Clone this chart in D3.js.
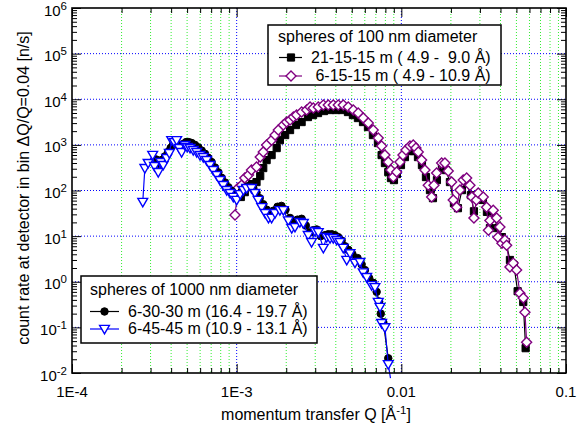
<!DOCTYPE html>
<html>
<head>
<meta charset="utf-8">
<script src="https://cdn.jsdelivr.net/npm/d3@7"></script>
<style>
  body { margin: 0; background: #fff; }
  text { font-family: "Liberation Sans", Arial, sans-serif; fill: #000; }
  .pre { white-space: pre; }
</style>
</head>
<body>
<svg id="chart" width="584" height="430"></svg>
<script>
// ---- data ----
// 100 nm spheres, 21-15-15 m (black squares)
const q21 = [1.06e-3, 1.12e-3, 1.18e-3, 1.24e-3, 1.32e-3, 1.39e-3, 1.45e-3, 1.52e-3, 1.63e-3, 1.75e-3,
  1.83e-3, 1.97e-3, 2.11e-3, 2.29e-3, 2.48e-3, 2.71e-3, 2.91e-3, 3.12e-3, 3.39e-3, 3.69e-3,
  4.01e-3, 4.36e-3, 4.74e-3, 5.08e-3, 5.45e-3, 5.85e-3, 6.27e-3, 6.72e-3, 7.21e-3, 7.59e-3,
  7.95e-3, 8.33e-3, 8.65e-3, 9.02e-3, 9.40e-3, 9.95e-3, 0.01052, 0.01128, 0.01193, 0.01262,
  0.01334, 0.01411, 0.01492, 0.01556, 0.01645, 0.01764, 0.01866, 0.01973, 0.02087, 0.02207,
  0.02333, 0.02503, 0.02646, 0.02760, 0.02919, 0.03130, 0.03310, 0.03451, 0.03650, 0.03860,
  0.04082, 0.04318, 0.04566, 0.04828, 0.05085, 0.05500, 0.05686];
const c21 = [72, 92, 119, 138, 153, 207, 310, 464, 597, 851,
  1266, 1640, 2111, 2718, 3162, 4070, 4503, 4981, 5511, 5800,
  5800, 5800, 5240, 4503, 3870, 3162, 2457, 1640, 1095, 597,
  399, 253, 187, 169, 229, 361, 540, 731, 731, 540,
  361, 197, 102, 68, 169, 310, 280, 153, 53, 41,
  102, 145, 79, 35, 68, 62, 34, 15, 25, 15,
  9.5, 7.4, 3.0, 2.3, 0.62, 0.36, 0.035];

// 100 nm spheres, 6-15-15 m (purple open diamonds)
const q615 = [9.77e-4, 1.02e-3, 1.07e-3, 1.12e-3, 1.18e-3, 1.23e-3, 1.32e-3, 1.39e-3, 1.45e-3, 1.52e-3,
  1.63e-3, 1.71e-3, 1.79e-3, 1.92e-3, 2.01e-3, 2.11e-3, 2.21e-3, 2.31e-3, 2.48e-3, 2.66e-3,
  2.79e-3, 2.92e-3, 3.13e-3, 3.36e-3, 3.60e-3, 3.86e-3, 4.14e-3, 4.44e-3, 4.76e-3, 5.11e-3,
  5.47e-3, 5.87e-3, 6.30e-3, 6.75e-3, 7.24e-3, 7.59e-3, 7.95e-3, 8.33e-3, 8.65e-3, 8.93e-3,
  9.37e-3, 9.81e-3, 0.01023, 0.01067, 0.01128, 0.01181, 0.01227, 0.01267, 0.01328, 0.01391,
  0.01457, 0.01528, 0.01578, 0.01638, 0.01757, 0.01840, 0.01927, 0.02021, 0.02066, 0.02167,
  0.02270, 0.02376, 0.02493, 0.02610, 0.02684, 0.02760, 0.02858, 0.02931, 0.03144, 0.03296,
  0.03380, 0.03451, 0.03615, 0.03791, 0.03860, 0.03969, 0.04082, 0.04257, 0.04360, 0.04566,
  0.04781, 0.05013, 0.05250, 0.05500, 0.05632, 0.05768];
const c615 = [29, 113, 131, 187, 218, 280, 326, 540, 695, 990,
  1266, 1640, 2111, 2718, 3162, 3498, 4070, 4503, 5240, 5800,
  6745, 6412, 6745, 7461, 7461, 7461, 7461, 7461, 6745, 5800,
  4981, 3870, 3006, 2111, 1410, 941, 597, 419, 280, 197,
  253, 419, 597, 769, 941, 990, 851, 695, 464, 280,
  131, 72, 131, 241, 399, 399, 266, 153, 62, 43,
  102, 169, 187, 131, 72, 25, 62, 88, 72, 43,
  13.5, 22, 37, 25, 9.5, 15.8, 7.0, 8.2, 6.3, 2.1,
  2.56, 1.8, 0.56, 0.44, 0.215, 0.047];

// 1000 nm spheres, 6-30-30 m (black circles)
const q630 = [3.24e-4, 3.40e-4, 3.52e-4, 3.67e-4, 3.83e-4, 3.97e-4, 4.10e-4, 4.25e-4, 4.40e-4, 4.56e-4,
  4.74e-4, 4.93e-4, 5.11e-4, 5.33e-4, 5.58e-4, 5.85e-4, 6.13e-4, 6.42e-4, 6.72e-4, 7.04e-4,
  7.38e-4, 7.74e-4, 8.10e-4, 8.49e-4, 8.90e-4, 9.32e-4, 9.77e-4, 1.02e-3, 1.07e-3, 1.12e-3,
  1.18e-3, 1.26e-3, 1.32e-3, 1.38e-3, 1.45e-3, 1.52e-3, 1.60e-3, 1.67e-3, 1.77e-3, 1.87e-3,
  1.98e-3, 2.11e-3, 2.21e-3, 2.34e-3, 2.48e-3, 2.63e-3, 2.79e-3, 2.92e-3, 3.06e-3, 3.24e-3,
  3.44e-3, 3.60e-3, 3.78e-3, 3.95e-3, 4.14e-3, 4.34e-3, 4.55e-3, 4.77e-3, 5.05e-3, 5.42e-3,
  5.74e-3, 6.01e-3, 6.38e-3, 6.75e-3, 7.08e-3, 7.33e-3, 7.50e-3, 7.77e-3, 8.33e-3];
const c630 = [480, 380, 470, 560, 700, 850, 1000, 1080, 1000, 950,
  1050, 1150, 1150, 1100, 1000, 880, 750, 640, 520, 420,
  320, 250, 190, 150, 118, 98, 85, 80, 95, 115,
  125, 115, 90, 68, 50, 38, 32, 36, 44, 46,
  38, 25, 20, 23, 24, 17, 12, 13.5, 14, 10,
  10.5, 11, 11, 10.5, 9.5, 8, 6, 5, 4, 3.3,
  2.4, 1.8, 1.2, 0.95, 0.6, 0.37, 0.2, 0.13, 0.021];

// 1000 nm spheres, 6-45-45 m (blue open triangles)
const q645 = [2.69e-4, 2.77e-4, 2.90e-4, 3.09e-4, 3.17e-4, 3.34e-4, 3.46e-4, 3.58e-4, 3.76e-4, 3.90e-4,
  4.03e-4, 4.18e-4, 4.32e-4, 4.48e-4, 4.63e-4, 4.85e-4, 5.01e-4, 5.21e-4, 5.45e-4, 5.72e-4,
  5.99e-4, 6.27e-4, 6.57e-4, 6.88e-4, 7.21e-4, 7.56e-4, 7.92e-4, 8.29e-4, 8.70e-4, 9.11e-4,
  9.54e-4, 1.00e-3, 1.05e-3, 1.10e-3, 1.15e-3, 1.23e-3, 1.29e-3, 1.35e-3, 1.42e-3, 1.49e-3,
  1.56e-3, 1.63e-3, 1.71e-3, 1.83e-3, 1.92e-3, 2.06e-3, 2.16e-3, 2.26e-3, 2.42e-3, 2.54e-3,
  2.72e-3, 2.85e-3, 2.99e-3, 3.13e-3, 3.36e-3, 3.52e-3, 3.69e-3, 3.86e-3, 4.05e-3, 4.24e-3,
  4.44e-3, 4.66e-3, 4.88e-3, 5.23e-3, 5.61e-3, 5.87e-3, 6.16e-3, 6.60e-3, 6.91e-3, 7.24e-3,
  7.42e-3, 7.59e-3, 7.95e-3, 8.33e-3, 8.59e-3];
const c645 = [56, 310, 400, 600, 343, 253, 419, 361, 513, 661,
  1266, 1144, 1266, 851, 695, 990, 895, 851, 769, 695,
  597, 540, 464, 361, 280, 218, 169, 131, 102, 88,
  72, 62, 83, 102, 113, 113, 88, 62, 43, 32,
  25, 25, 32, 37, 37, 22, 15, 15.8, 20.3, 19.3,
  10.5, 7.4, 12.9, 12.2, 5.5, 9.5, 9.0, 9.0, 8.2, 7.4,
  5.5, 3.0, 4.2, 2.6, 2.7, 1.6, 1.26, 0.84, 0.76, 0.36,
  0.28, 0.124, 0.10, 0.0156, 0.0077];

// axis ticks
const xMajor = [1e-4, 1e-3, 1e-2, 1e-1];
const xTickLabels = ["1E-4", "1E-3", "0.01", "0.1"];
const yExp = [-2, -1, 0, 1, 2, 3, 4, 5, 6];

// legend texts
const legTopTitle = "spheres of 100 nm diameter";
const legTop = ["21-15-15 m ( 4.9 -  9.0 Å)", " 6-15-15 m ( 4.9 - 10.9 Å)"];
const legBotTitle = "spheres of 1000 nm diameter";
const legBot = ["6-30-30 m (16.4 - 19.7 Å)", "6-45-45 m (10.9 - 13.1 Å)"];

// ---- drawing ----
const svg = d3.select("#chart");
svg.append("rect").attr("width", 584).attr("height", 430).attr("fill", "#fff");

const x = d3.scaleLog().domain([1e-4, 0.1]).range([72, 566]);
const y = d3.scaleLog().domain([1e-2, 1e6]).range([373, 8]);

const xMinor = [1e-4, 1e-3, 1e-2].flatMap(d => d3.range(2, 10).map(k => k * d));
const yMinor = d3.range(-2, 6).flatMap(e => d3.range(2, 10).map(k => k * Math.pow(10, e)));

// grid
const grid = svg.append("g");
grid.selectAll(".gmin").data(xMinor).join("line")
  .attr("x1", d => x(d)).attr("x2", d => x(d))
  .attr("y1", y(1e6)).attr("y2", y(1e-2))
  .attr("stroke", "#33ee33").attr("stroke-dasharray", "1,2");
grid.selectAll(".gmaj").data([1e-3, 1e-2]).join("line")
  .attr("x1", d => x(d)).attr("x2", d => x(d))
  .attr("y1", y(1e6)).attr("y2", y(1e-2))
  .attr("stroke", "#0000ff").attr("stroke-dasharray", "1,2");
grid.selectAll(".gy").data(yExp.slice(1, -1)).join("line")
  .attr("x1", x(1e-4)).attr("x2", x(0.1))
  .attr("y1", d => y(Math.pow(10, d))).attr("y2", d => y(Math.pow(10, d)))
  .attr("stroke", "#0000ff").attr("stroke-dasharray", "1,2");

// markers
const markers = {
  square: { d: "M-3.6,-3.6H3.6V3.6H-3.6Z", fill: "#000", sw: 1 },
  diamond: { d: "M0,-5L5,0L0,5L-5,0Z", fill: "#fff", sw: 1.4 },
  circle: { d: d3.symbol(d3.symbolCircle, 44)(), fill: "#000", sw: 1 },
  triangle: { d: "M-4.9,-3.6L4.9,-3.6L0,4.9Z", fill: "#fff", sw: 1.4 }
};

function drawSeries(qs, cs, color, m) {
  let pts = qs.map((q, i) => [q, cs[i]]);
  let g = svg.append("g");
  g.append("path").datum(pts)
    .attr("d", d3.line().x(d => x(d[0])).y(d => y(d[1])))
    .attr("fill", "none").attr("stroke", color).attr("stroke-width", 1.2);
  g.selectAll(".m").data(pts.filter(d => d[1] >= 1e-2)).join("path")
    .attr("transform", d => `translate(${x(d[0])},${y(d[1])})`)
    .attr("d", m.d).attr("fill", m.fill).attr("stroke", color).attr("stroke-width", m.sw);
}

drawSeries(q21, c21, "#000", markers.square);
drawSeries(q615, c615, "#800080", markers.diamond);
drawSeries(q630, c630, "#000", markers.circle);
drawSeries(q645, c645, "#0000ff", markers.triangle);

// axes ticks (inward)
function ticks(axis, vals, size, transform) {
  let g = svg.append("g").attr("transform", transform)
    .call(axis.tickValues(vals).tickSize(size).tickSizeOuter(0).tickFormat(""));
  g.select(".domain").remove();
  g.selectAll("line").attr("stroke", "#000").attr("stroke-width", 1);
}
ticks(d3.axisBottom(x), xMajor, -9, "translate(0,373)");
ticks(d3.axisBottom(x), xMinor, -5, "translate(0,373)");
ticks(d3.axisTop(x), xMajor, -9, "translate(0,8)");
ticks(d3.axisTop(x), xMinor, -5, "translate(0,8)");
const yMajorVals = yExp.map(e => Math.pow(10, e));
ticks(d3.axisLeft(y), yMajorVals, -9, "translate(72,0)");
ticks(d3.axisLeft(y), yMinor, -5, "translate(72,0)");
ticks(d3.axisRight(y), yMajorVals, -9, "translate(566,0)");
ticks(d3.axisRight(y), yMinor, -5, "translate(566,0)");

// frame
svg.append("rect").attr("x", 72).attr("y", 8).attr("width", 494).attr("height", 365)
  .attr("fill", "none").attr("stroke", "#000").attr("stroke-width", 1.6);

// tick labels
svg.append("g").selectAll("text").data(xMajor).join("text")
  .attr("x", d => x(d)).attr("y", 397).attr("text-anchor", "middle")
  .attr("font-size", 15).text((d, i) => xTickLabels[i]);

const yl = svg.append("g").selectAll("text").data(yExp).join("text")
  .attr("x", 67).attr("y", d => y(Math.pow(10, d)) + 7.5)
  .attr("text-anchor", "end").attr("font-size", 15);
yl.append("tspan").text("10");
yl.append("tspan").attr("dy", -6).attr("font-size", 11.5).text(d => d);

// axis titles
const xt = svg.append("text").attr("x", 316).attr("y", 420)
  .attr("text-anchor", "middle").attr("font-size", 16);
xt.append("tspan").text("momentum transfer Q [Å");
xt.append("tspan").attr("dy", -6).attr("font-size", 11.5).text("-1");
xt.append("tspan").attr("dy", 6).text("]");

svg.append("text").attr("transform", "translate(29,188) rotate(-90)")
  .attr("text-anchor", "middle").attr("font-size", 16)
  .text("count rate at detector in bin ΔQ/Q=0.04 [n/s]");

// legends
function legend(box, title, labels, colors, marks) {
  let g = svg.append("g");
  g.append("rect").attr("x", box.x).attr("y", box.y).attr("width", box.w).attr("height", box.h)
    .attr("fill", "#fff").attr("stroke", "#000").attr("stroke-width", 1.5);
  g.append("text").attr("x", box.tx).attr("y", box.ty).attr("font-size", 16).text(title);
  labels.forEach((lab, i) => {
    let ly = box.ly[i];
    g.append("line").attr("x1", box.lx0).attr("x2", box.lx1).attr("y1", ly).attr("y2", ly)
      .attr("stroke", colors[i]).attr("stroke-width", 1.2);
    g.append("path").attr("transform", `translate(${box.mx},${ly})`)
      .attr("d", marks[i].d).attr("fill", marks[i].fill)
      .attr("stroke", colors[i]).attr("stroke-width", marks[i].sw);
    g.append("text").attr("class", "pre").attr("x", box.lt).attr("y", box.lb[i])
      .attr("font-size", 16).text(lab);
  });
}

legend({ x: 268, y: 25, w: 233, h: 60, tx: 278, ty: 42, ly: [57.5, 76], lx0: 279, lx1: 302, mx: 291, lt: 311, lb: [62.5, 80.5] },
  legTopTitle, legTop, ["#000", "#800080"], [markers.square, markers.diamond]);
legend({ x: 81, y: 276, w: 236, h: 67, tx: 90, ty: 295, ly: [311.5, 329], lx0: 90, lx1: 119, mx: 104.5, lt: 128, lb: [316.5, 334] },
  legBotTitle, legBot, ["#000", "#0000ff"], [markers.circle, markers.triangle]);
</script>
</body>
</html>
